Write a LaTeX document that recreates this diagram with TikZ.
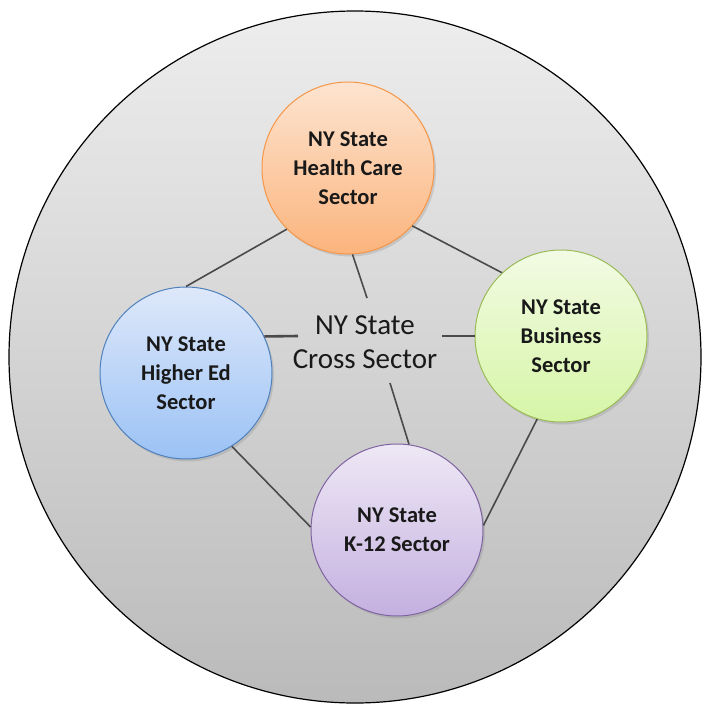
\documentclass[tikz,border=0pt]{standalone}
\usepackage{fontspec}
\setmainfont{Carlito}
\usetikzlibrary{shadows}
\definecolor{linegray}{HTML}{4A4A4A}
\tikzset{
  sector/.style={circle, minimum size=172pt, inner sep=0pt, line width=1pt,
    align=center, font=\fontsize{22.5}{29}\selectfont\bfseries, text=black!90,
    drop shadow={opacity=0.25, shadow xshift=2pt, shadow yshift=-2.5pt}},
  conn/.style={draw=linegray, line width=1.6pt},
  spoke/.style={draw=linegray, line width=2.6pt}
}
\begin{document}
\begin{tikzpicture}[x=1pt,y=-1pt]
\useasboundingbox (0,0) rectangle (707,706);
\fill[white] (0,0) rectangle (707,706);
\node[circle, minimum size=692pt, inner sep=0pt, draw=black, line width=1.2pt,
  top color=black!7, bottom color=black!27] (outer) at (355,357) {};
\node[sector, draw={rgb,255:red,247;green,150;blue,70},
  top color={rgb,255:red,253;green,228;blue,208}, bottom color={rgb,255:red,251;green,180;blue,125}]
  (hc) at (348,168) {NY State\\Health Care\\Sector};
\node[sector, draw={rgb,255:red,79;green,129;blue,189},
  top color={rgb,255:red,222;green,232;blue,250}, bottom color={rgb,255:red,155;green,194;blue,245}]
  (he) at (186,373) {NY State\\Higher Ed\\Sector};
\node[sector, draw={rgb,255:red,155;green,187;blue,89},
  top color={rgb,255:red,242;green,251;blue,228}, bottom color={rgb,255:red,214;green,245;blue,166}]
  (bus) at (561,336) {NY State\\Business\\Sector};
\node[sector, draw={rgb,255:red,128;green,100;blue,162},
  top color={rgb,255:red,238;green,232;blue,245}, bottom color={rgb,255:red,196;green,176;blue,224}]
  (k12) at (397,530) {NY State\\K-12 Sector};
\node[align=center, font=\fontsize{29}{34}\selectfont, text=black!90] (cross) at (365,342) {NY State\\Cross Sector};
\coordinate (cT) at (367,298);
\coordinate (cL) at (298,336);
\coordinate (cR) at (442,336);
\coordinate (cB) at (390,383);
\draw[conn] (hc.225) -- (he.90);
\draw[conn] (hc.318) -- (bus.133);
\draw[conn] (he.302) -- (k12.178);
\draw[conn] (bus.254) -- (k12.3);
\draw[conn] (hc.273) -- (cT);
\draw[spoke] (he.25) -- (cL);
\draw[spoke] (bus.180) -- (cR);
\draw[conn] (k12.82) -- (cB);
\end{tikzpicture}
\end{document}
